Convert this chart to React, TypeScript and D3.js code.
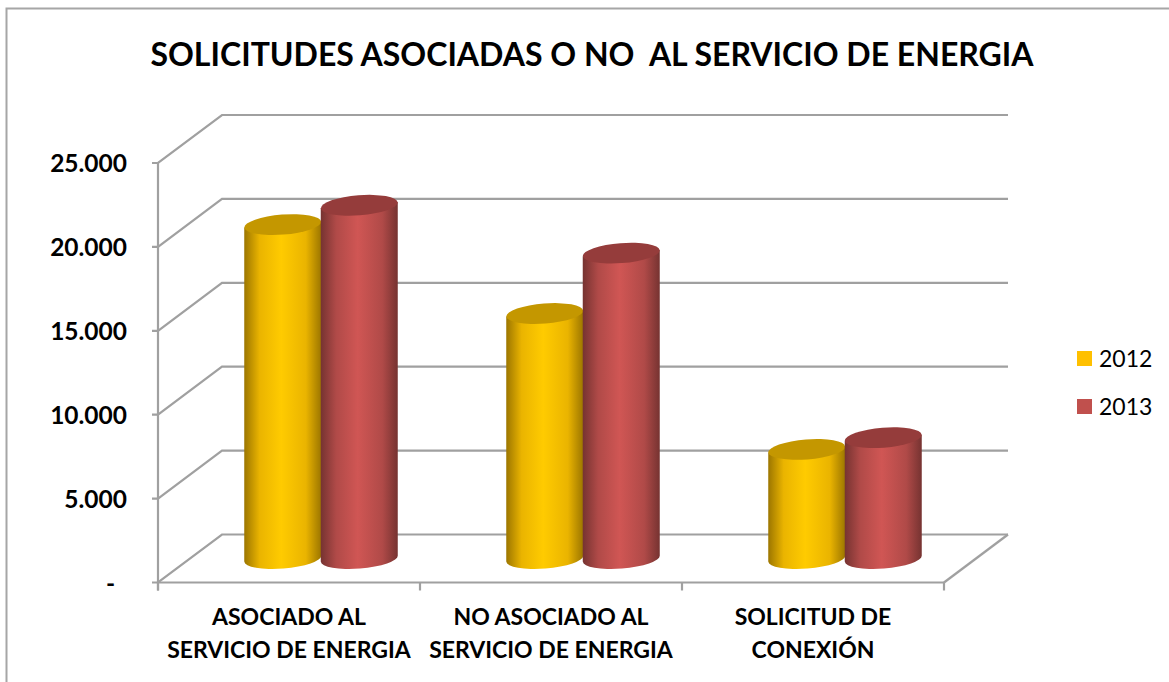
import { useEffect, useRef } from "react";
import * as d3 from "d3";

const width = 1169;
const height = 682;

const categories = [
  ["ASOCIADO AL", "SERVICIO DE ENERGIA"],
  ["NO ASOCIADO AL", "SERVICIO DE ENERGIA"],
  ["SOLICITUD DE", "CONEXIÓN"],
];
const seriesNames = ["2012", "2013"];
const values2012 = [19900, 14600, 6500];
const values2013 = [21050, 18200, 7200];
const yTicks = [0, 5000, 10000, 15000, 20000, 25000];
const yLabels = ["-  ", "5.000", "10.000", "15.000", "20.000", "25.000"];
const title = "SOLICITUDES ASOCIADAS O NO  AL SERVICIO DE ENERGIA";

const fontFamily = "Lato, 'Open Sans', sans-serif";
const gridColor = "#a0a0a0";

// front plane of the 3d box, the back wall sits up and to the right of it
const plot = { left: 158, right: 944, bottom: 582.5, top: 163 };
const depth = { x: 64, y: -48 };

const shades = [
  { id: "cyl2012", edge: "#9c7600", near: "#eab400", mid: "#ffcb00", top: "#c49700", flat: "#ffc000" },
  { id: "cyl2013", edge: "#763331", near: "#b04a48", mid: "#d05654", top: "#953c3b", flat: "#c0504d" },
];

function App() {
  const d3Node = useRef<SVGSVGElement | null>(null);

  useEffect(() => {
    const svg = d3.select(d3Node.current);
    svg.selectAll("*").remove();

    const x = d3.scaleBand<number>().domain([0, 1, 2]).range([plot.left, plot.right]);
    const y = d3.scaleLinear().domain([0, 25000]).range([plot.bottom, plot.top]);
    const inner = d3.scaleBand<number>().domain([0, 1]).range([-76.5, 76.5]);

    // gradients for the cylinders
    const defs = svg.append("defs");
    shades.forEach((s) => {
      const g = defs.append("linearGradient").attr("id", s.id);
      g.append("stop").attr("offset", "0%").attr("stop-color", s.edge);
      g.append("stop").attr("offset", "20%").attr("stop-color", s.near);
      g.append("stop").attr("offset", "48%").attr("stop-color", s.mid);
      g.append("stop").attr("offset", "80%").attr("stop-color", s.near);
      g.append("stop").attr("offset", "100%").attr("stop-color", s.edge);
    });

    // outer frame, the right side is cut off in the picture
    svg
      .append("path")
      .attr("d", `M6.5,${height}V8.5H${width}`)
      .attr("fill", "none")
      .attr("stroke", "#a6a6a6")
      .attr("stroke-width", 2);

    // back wall lines and floor
    const grid = svg.append("g").attr("fill", "none").attr("stroke", gridColor).attr("stroke-width", 2.2);
    yTicks.forEach((t) => {
      grid
        .append("path")
        .attr(
          "d",
          d3.line()([
            [plot.left - 6, y(t)],
            [plot.left, y(t)],
            [plot.left + depth.x, y(t) + depth.y],
            [plot.right + depth.x, y(t) + depth.y],
          ])
        );
    });
    grid.append("line").attr("x1", plot.left).attr("x2", plot.left).attr("y1", plot.top).attr("y2", plot.bottom + 8);
    grid.append("line").attr("x1", plot.left).attr("x2", plot.right).attr("y1", plot.bottom).attr("y2", plot.bottom);
    grid
      .append("line")
      .attr("x1", plot.right)
      .attr("x2", plot.right + depth.x)
      .attr("y1", plot.bottom)
      .attr("y2", plot.bottom + depth.y);
    d3.range(4).forEach((i) => {
      const tx = plot.left + x.step() * i;
      grid.append("line").attr("x1", tx).attr("x2", tx).attr("y1", plot.bottom).attr("y2", plot.bottom + 8);
    });

    // cylinders, standing in the middle of the box depth
    const rx = 38.5;
    const ry = 10;
    const tilt = -4.5;
    const dy = Math.tan((tilt * Math.PI) / 180) * rx;
    [values2012, values2013].forEach((vals, si) => {
      const s = shades[si];
      vals.forEach((v, i) => {
        const cx = x(i)! + x.bandwidth() / 2 + depth.x / 2 + inner(si)! + inner.bandwidth() / 2;
        const topY = y(v) + depth.y / 2;
        const baseY = y(0) + depth.y / 2;
        const g = svg.append("g");
        g.append("path")
          .attr(
            "d",
            `M${cx - rx},${topY - dy}` +
              `L${cx - rx},${baseY - dy}` +
              `A${rx},${ry} ${tilt} 0 0 ${cx + rx},${baseY + dy}` +
              `L${cx + rx},${topY + dy}Z`
          )
          .attr("fill", `url(#${s.id})`);
        g.append("ellipse")
          .attr("rx", rx)
          .attr("ry", ry)
          .attr("transform", `translate(${cx},${topY}) rotate(${tilt})`)
          .attr("fill", s.top);
      });
    });

    // y labels
    svg
      .append("g")
      .selectAll("text")
      .data(yTicks)
      .join("text")
      .attr("x", 127)
      .attr("y", (d) => y(d) + 9)
      .attr("text-anchor", "end")
      .attr("font-size", 24.5)
      .attr("font-weight", 700)
      .style("white-space", "pre")
      .text((_, i) => yLabels[i]);

    // category labels
    categories.forEach((lines, i) => {
      lines.forEach((line, li) => {
        svg
          .append("text")
          .attr("x", x(i)! + x.bandwidth() / 2)
          .attr("y", 625 + li * 33)
          .attr("text-anchor", "middle")
          .attr("font-size", 23)
          .attr("font-weight", 700)
          .text(line);
      });
    });

    // legend
    seriesNames.forEach((name, i) => {
      const ly = 351 + i * 48;
      svg.append("rect").attr("x", 1077).attr("y", ly).attr("width", 15).attr("height", 15).attr("fill", shades[i].flat);
      svg.append("text").attr("x", 1099).attr("y", ly + 15.5).attr("font-size", 23).text(name);
    });

    svg
      .append("text")
      .attr("x", 592)
      .attr("y", 66)
      .attr("text-anchor", "middle")
      .attr("font-size", 32)
      .attr("font-weight", 700)
      .style("white-space", "pre")
      .text(title);
  }, []);

  return (
    <svg
      ref={d3Node}
      width={width}
      height={height}
      viewBox={`0 0 ${width} ${height}`}
      style={{ position: "absolute", left: 0, top: 0, fontFamily, background: "#fff" }}
    />
  );
}

export default App;
